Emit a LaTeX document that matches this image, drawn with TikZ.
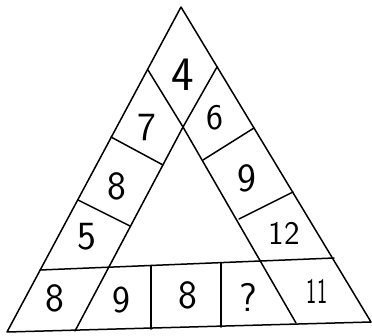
\documentclass[tikz,border=0pt]{standalone}
\begin{document}
\begin{tikzpicture}[x=1pt,y=-1pt,
  edge/.style={line width=1.5pt,line join=round,line cap=round},
  num/.style={font=\sffamily\fontsize{40}{40}\selectfont,inner sep=0pt}]
\useasboundingbox (0,0) rectangle (372,335);
% outer triangle
\coordinate (A) at (181,7);
\coordinate (BL) at (7,332);
\coordinate (BR) at (371,322);
\coordinate (L1) at (148,70);
\coordinate (R1) at (217,67);
\coordinate (D) at (183,127);
\coordinate (IL) at (75,331);
\coordinate (IR) at (296,323);
\coordinate (BTL) at (40,270);
\coordinate (BTR) at (334,258);
\draw[edge] (A) -- (BL) -- (BR) -- cycle;
\draw[edge] (L1) -- (D) -- (R1);
\draw[edge] (D) -- (IL);
\draw[edge] (D) -- (IR);
\draw[edge] (BTL) -- (BTR);
% left band dividers
\coordinate (la1) at (111,137); \coordinate (lb1) at (163,165);
\coordinate (la2) at (78,200);  \coordinate (lb2) at (130,226);
\draw[edge] (la1) -- (lb1);
\draw[edge] (la2) -- (lb2);
% right band dividers
\coordinate (ra1) at (254,128); \coordinate (rb1) at (203,160);
\coordinate (ra2) at (293,192); \coordinate (rb2) at (239,219);
\draw[edge] (ra1) -- (rb1);
\draw[edge] (ra2) -- (rb2);
% bottom vertical dividers
\coordinate (v1t) at (151,266); \coordinate (v1b) at (151,329);
\coordinate (v2t) at (221,263); \coordinate (v2b) at (221,327);
\draw[edge] (v1t) -- (v1b);
\draw[edge] (v2t) -- (v2b);
% numbers
\node[num,font=\sffamily\fontsize{48}{48}\selectfont] (n4) at (183,75) {4};
\node[num] (n7) at (147,128) {7};
\node[num,font=\sffamily\fontsize{36}{36}\selectfont] (n6) at (215,118) {6};
\node[num] (n8a) at (117,186) {8};
\node[num] (n9a) at (247,178) {9};
\node[num] (n5) at (87,237) {5};
\node[num,font=\sffamily\fontsize{33}{33}\selectfont] (n12) at (284,233) {12};
\node[num] (n8b) at (55,298) {8};
\node[num,font=\sffamily\fontsize{38}{38}\selectfont] (n9b) at (121,300) {9};
\node[num] (n8c) at (188,295) {8};
\node[num] (nq) at (248,297) {?};
\node[num,font=\sffamily\fontsize{36}{36}\selectfont,xscale=0.6] (n11) at (317,291) {11};
\end{tikzpicture}
\end{document}
